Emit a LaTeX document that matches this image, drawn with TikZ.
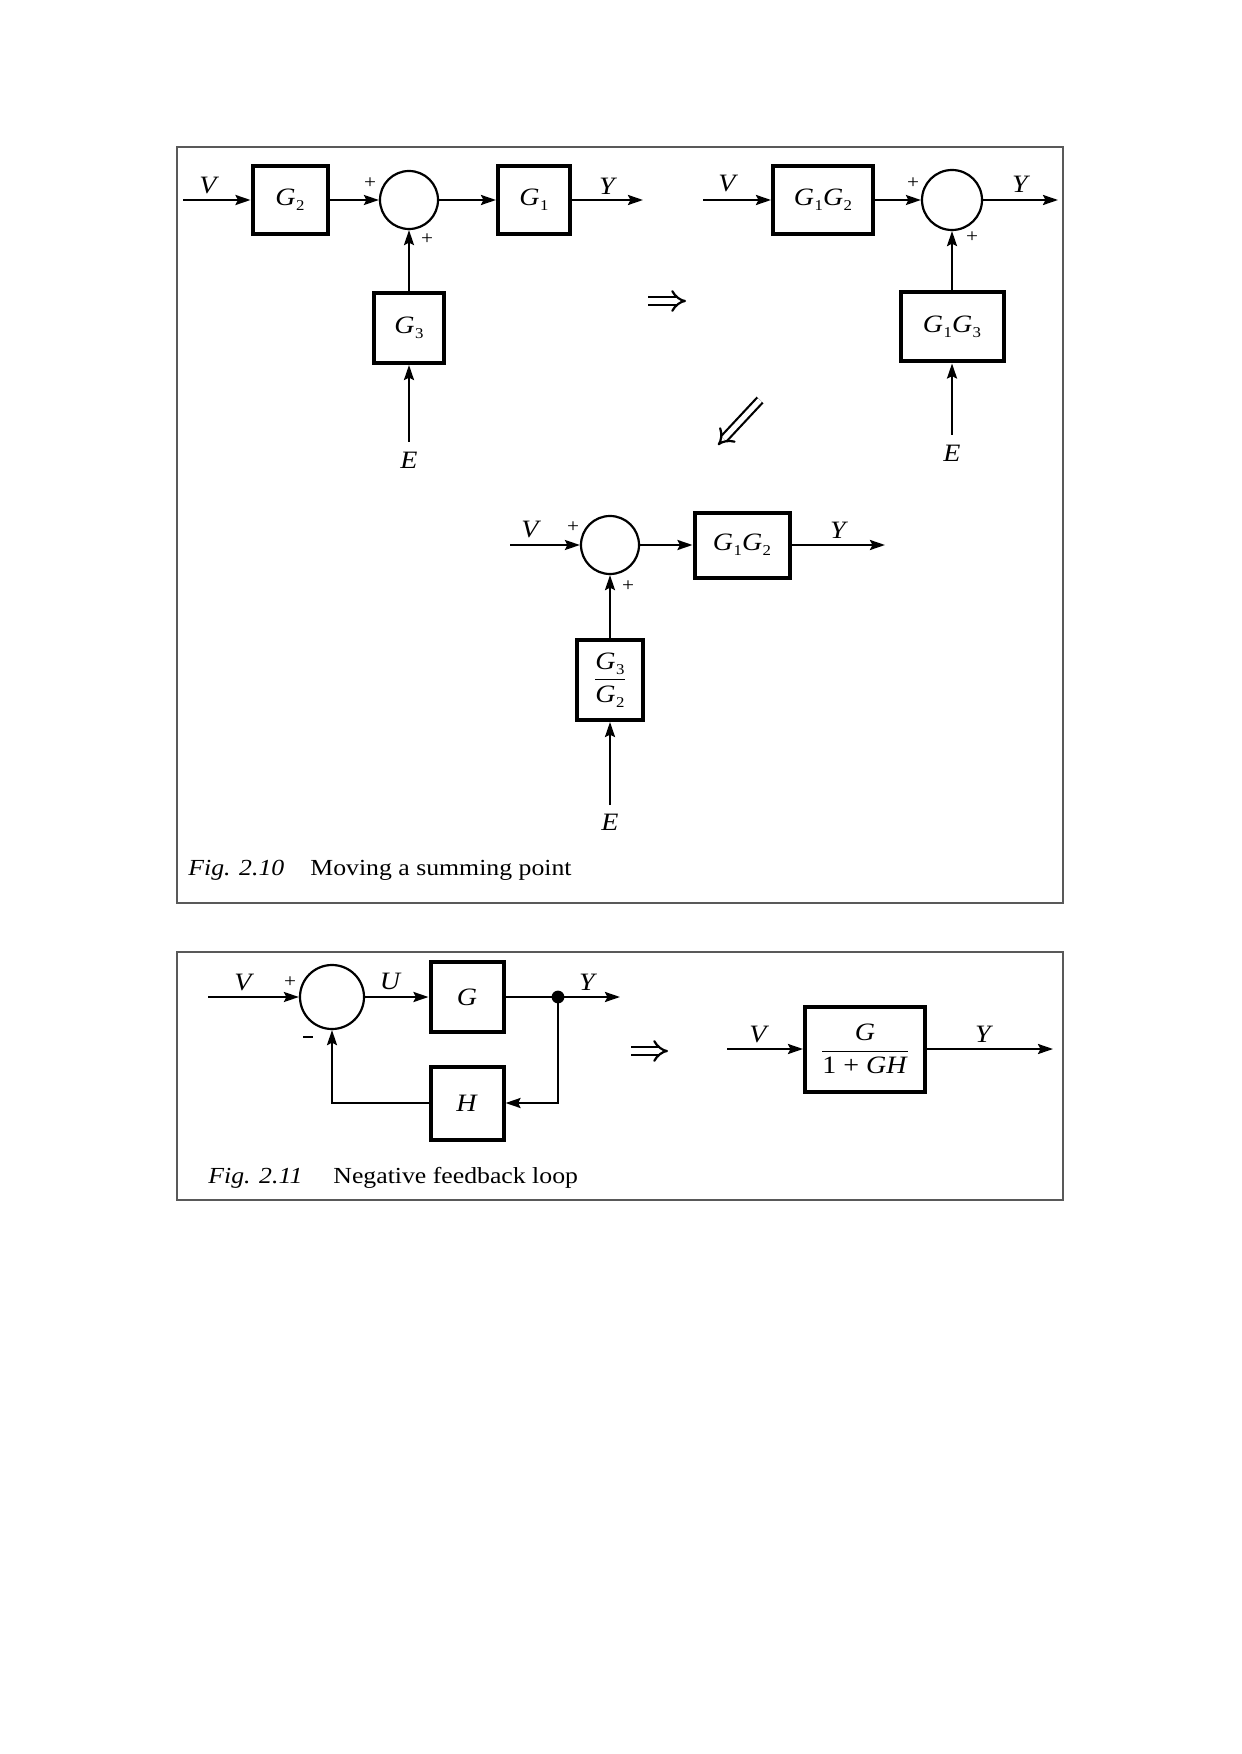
\documentclass[tikz,border=0pt]{standalone}
\usepackage{fontspec}
\setmainfont{Liberation Serif}[FakeStretch=1.12]
\usetikzlibrary{arrows.meta}
% G with an upright, lowered index
\newcommand\Gsub[1]{\textit{G}\kern0.02em\raisebox{-0.45ex}{\fontsize{7.5}{8}\selectfont #1}}
\begin{document}
\begin{tikzpicture}[x=0.5pt,y=-0.5pt,
  every node/.style={font=\fontsize{12.5}{14}\selectfont, inner sep=0pt},
  blk/.style={draw, line width=2pt, inner sep=0pt},
  sumpt/.style={draw, circle, line width=1.1pt, inner sep=0pt},
  wire/.style={line width=1.1pt},
  sig/.style={wire, -{Stealth[length=7.5pt,width=5pt,inset=1.2pt]}},
  lbl/.style={font=\fontsize{12.5}{14}\selectfont\itshape},
  sgn/.style={font=\fontsize{9.5}{10}\selectfont},
  figframe/.style={draw=black!65, line width=0.7pt},
  impl/.style={line width=1.1pt, double distance=2.6pt, -{Implies}},
  figcap/.style={anchor=base west, font=\fontsize{11.5}{13}\selectfont},
]
\useasboundingbox (0,0) rectangle (1241,1754);
\fill[white] (0,0) rectangle (1241,1754);

% ---------------- Fig. 2.10 ----------------
\draw[figframe] (177,147) rectangle (1063,903);

% original arrangement
\coordinate (vin1) at (183,200);
\node[blk, minimum width=37.5pt, minimum height=34pt] (g2) at (290,200) {\Gsub{2}};
\node[sumpt, minimum size=29pt] (s1) at (409,200) {};
\node[blk, minimum width=36pt, minimum height=34pt] (g1) at (534,200) {\Gsub{1}};
\coordinate (yout1) at (643,200);
\node[blk, minimum width=35pt, minimum height=35pt] (g3) at (409,328) {\Gsub{3}};
\coordinate (ein1) at (409,442);
\draw[sig] (vin1) -- (g2.west);
\draw[sig] (g2.east) -- (s1.west);
\draw[sig] (s1.east) -- (g1.west);
\draw[sig] (g1.east) -- (yout1);
\draw[sig] (g3.north) -- (s1.south);
\draw[sig] (ein1) -- (g3.south);
\node[lbl] (lv1) at (208,186) {V};
\node[lbl] (ly1) at (607,186) {Y};
\node[lbl] (le1) at (409,460) {E};
\node[sgn] (p1a) at (370,183) {+};
\node[sgn] (p1b) at (427,239) {+};

% summing point moved past G1
\coordinate (vin2) at (703,200);
\node[blk, minimum width=50pt, minimum height=34pt] (g12) at (823,200) {\Gsub{1}\Gsub{2}};
\node[sumpt, minimum size=30pt] (s2) at (952,200) {};
\coordinate (yout2) at (1058,200);
\node[blk, minimum width=51.5pt, minimum height=34.5pt] (g13) at (952,327) {\Gsub{1}\Gsub{3}};
\coordinate (ein2) at (952,435);
\draw[sig] (vin2) -- (g12.west);
\draw[sig] (g12.east) -- (s2.west);
\draw[sig] (s2.east) -- (yout2);
\draw[sig] (g13.north) -- (s2.south);
\draw[sig] (ein2) -- (g13.south);
\node[lbl] (lv2) at (727,184) {V};
\node[lbl] (ly2) at (1020,184) {Y};
\node[lbl] (le2) at (952,453) {E};
\node[sgn] (p2a) at (913,183) {+};
\node[sgn] (p2b) at (972,237) {+};

% transformation arrows
\coordinate (ta) at (648,301);
\coordinate (tb) at (686,301);
\draw[impl] (ta) -- (tb);
\coordinate (da) at (760,400);
\coordinate (db) at (718,445);
\draw[impl] (da) -- (db);

% summing point moved ahead of G2
\coordinate (vin3) at (510,545);
\node[sumpt, minimum size=29pt] (s3) at (610,545) {};
\node[blk, minimum width=47.5pt, minimum height=32.5pt] (g12b) at (742,545) {\Gsub{1}\Gsub{2}};
\coordinate (yout3) at (885,545);
\node[blk, minimum width=33pt, minimum height=40pt] (g32) at (610,680)
  {$\displaystyle\frac{\mbox{\Gsub{3}}}{\mbox{\Gsub{2}}}$};
\coordinate (ein3) at (610,805);
\draw[sig] (vin3) -- (s3.west);
\draw[sig] (s3.east) -- (g12b.west);
\draw[sig] (g12b.east) -- (yout3);
\draw[sig] (g32.north) -- (s3.south);
\draw[sig] (ein3) -- (g32.south);
\node[lbl] (lv3) at (530,530) {V};
\node[lbl] (ly3) at (838,530) {Y};
\node[lbl] (le3) at (610,822) {E};
\node[sgn] (p3a) at (573,527) {+};
\node[sgn] (p3b) at (628,586) {+};

\node[figcap] (cap1a) at (188,875) {\itshape Fig. 2.10};
\node[figcap] (cap1b) at (310,875) {Moving a summing point};

% ---------------- Fig. 2.11 ----------------
\draw[figframe] (177,952) rectangle (1063,1200);

\coordinate (vin4) at (208,997);
\node[sumpt, minimum size=32pt] (s4) at (332,997) {};
\node[blk, minimum width=36.5pt, minimum height=35pt] (gg) at (467,997) {\textit{G}};
\coordinate (br) at (558,997);
\coordinate (yout4) at (620,997);
\node[blk, minimum width=36.5pt, minimum height=36.5pt] (hh) at (467,1103) {\textit{H}};
\draw[sig] (vin4) -- (s4.west);
\draw[sig] (s4.east) -- (gg.west);
\draw[sig] (gg.east) -- (yout4);
\draw[sig] (br) |- (hh.east);
\draw[sig] (hh.west) -| (s4.south);
\fill (br) circle (3.2pt);
\node[lbl] (lv4) at (243,982) {V};
\node[lbl] (lu4) at (390,981) {U};
\node[lbl] (ly4) at (587,982) {Y};
\node[sgn] (p4a) at (290,982) {+};
\node[sgn] (m4) at (308,1038) {\rule[0.25ex]{0.5em}{0.6pt}};

\coordinate (tc) at (631,1051);
\coordinate (td) at (668,1051);
\draw[impl] (tc) -- (td);

\coordinate (vin5) at (727,1049);
\node[blk, minimum width=60pt, minimum height=42.5pt] (cl) at (865,1049)
  {$\displaystyle\frac{\mbox{\textit{G}}}{\mbox{1 + \textit{GH}}}$};
\coordinate (yout5) at (1053,1049);
\draw[sig] (vin5) -- (cl.west);
\draw[sig] (cl.east) -- (yout5);
\node[lbl] (lv5) at (758,1034) {V};
\node[lbl] (ly5) at (983,1034) {Y};

\node[figcap] (cap2a) at (208,1183) {\itshape Fig. 2.11};
\node[figcap] (cap2b) at (333,1183) {Negative feedback loop};
\end{tikzpicture}
\end{document}
